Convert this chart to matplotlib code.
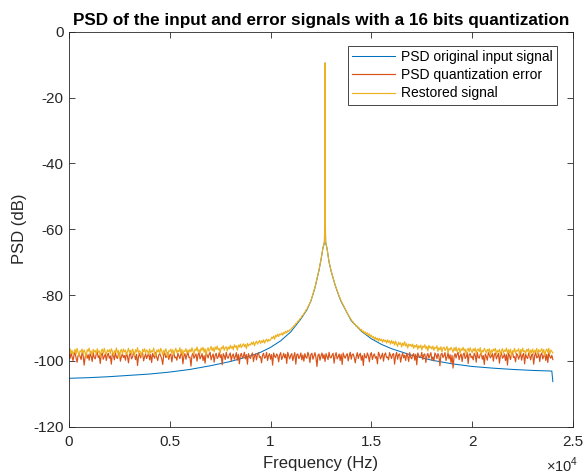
import numpy as np
import matplotlib
matplotlib.use("Agg")
import matplotlib.pyplot as plt
from matplotlib.ticker import FuncFormatter, FixedLocator

plt.rcParams['font.family'] = ['Liberation Sans', 'DejaVu Sans']
plt.rcParams['axes.unicode_minus'] = False
plt.rcParams['mathtext.fontset'] = 'custom'
plt.rcParams['mathtext.rm'] = 'Liberation Sans'

# ---------------- data ----------------
title = "PSD of the input and error signals with a 16 bits quantization"
series_names = ["PSD original input signal", "PSD quantization error", "Restored signal"]
x_ticks = [0, 5000, 10000, 15000, 20000, 25000]
y_ticks = [0, -20, -40, -60, -80, -100, -120]

# PSD of the original input signal (Hz, dB)
blue_freq = [0, 1000, 2000, 3000, 4000, 5000, 6000, 7000, 8000, 9000, 9500, 10000,
             10500, 11000, 11500, 11800, 12000, 12200, 12400, 12500, 12600, 12650,
             12670, 12690, 12700, 12710, 12730, 12750, 12800, 12900, 13000, 13200,
             13400, 13500, 14000, 14500, 15000, 15500, 16000, 17000, 18000, 19000,
             20000, 21000, 22000, 23000, 23950, 24000]
blue_db = [-105.3, -105.1, -104.8, -104.4, -104.0, -103.4, -102.6, -101.5, -100.2, -98.5,
           -97.4, -95.9, -93.9, -91.2, -87.3, -84.5, -81.8, -77.8, -72.5, -69.3, -65.6,
           -64.6, -63.9, -55.0, -9.5, -55.0, -63.9, -64.6, -65.9, -70.0, -72.7, -77.0,
           -80.5, -82.0, -87.8, -91.0, -93.3, -95.0, -96.3, -98.3, -99.8, -100.9,
           -101.7, -102.2, -102.6, -102.9, -103.1, -106.3]

# frequency grid of the noisy estimates (Hz), 50 Hz apart
noise_freq = np.arange(0, 24001, 50)

# PSD of the quantization error (dB), one value per 50 Hz
red_db = [
    -98.0, -99.3, -97.6, -98.8, -99.9, -98.2, -97.4, -99.1, -100.4, -98.5,
    -97.9, -98.7, -99.6, -97.5, -98.3, -101.3, -98.9, -97.7, -99.2, -98.1,
    -99.8, -97.8, -98.6, -100.2, -97.5, -98.9, -99.4, -98.0, -97.3, -99.0,
    -98.4, -100.8, -98.1, -97.6, -99.5, -98.7, -97.9, -99.9, -98.3, -97.7,
    -99.2, -98.5, -101.0, -97.8, -98.2, -99.7, -97.4, -98.8, -99.3, -98.0,
    -97.6, -100.1, -98.6, -97.9, -99.0, -98.4, -99.8, -97.5, -98.7, -100.6,
    -98.1, -97.7, -99.4, -98.9, -97.4, -98.3, -99.6, -98.0, -101.4, -98.6,
    -97.8, -99.1, -98.2, -97.5, -100.0, -98.8, -97.9, -99.3, -98.4, -97.6,
    -99.7, -98.1, -100.5, -97.7, -98.6, -99.2, -97.4, -98.9, -99.9, -98.3,
    -97.8, -98.5, -99.4, -101.1, -98.0, -97.6, -99.0, -98.7, -97.5, -99.6,
    -98.2, -97.9, -100.3, -98.4, -97.3, -99.1, -98.8, -99.8, -97.7, -98.5,
    -99.3, -98.0, -97.6, -100.9, -98.6, -97.8, -99.5, -98.2, -97.4, -99.0,
    -98.9, -101.6, -98.3, -97.7, -99.2, -98.5, -97.9, -100.1, -98.1, -97.5,
    -99.4, -98.7, -97.8, -99.9, -98.4, -100.7, -97.6, -98.2, -99.1, -98.0,
    -97.4, -99.7, -98.6, -97.9, -100.4, -98.3, -97.7, -99.3, -98.8, -97.5,
    -99.0, -98.1, -101.2, -97.8, -98.5, -99.6, -97.4, -98.9, -99.2, -98.2,
    -97.6, -100.0, -98.4, -97.9, -99.5, -98.7, -97.5, -99.8, -98.0, -100.9,
    -98.3, -97.7, -99.1, -98.6, -97.4, -99.4, -98.1, -101.0, -97.8, -98.8,
    -99.3, -98.2, -97.6, -100.2, -98.5, -97.9, -99.7, -98.0, -97.5, -99.0,
    -98.7, -100.6, -98.3, -97.7, -99.2, -98.9, -97.4, -99.9, -98.4, -97.8,
    -99.5, -98.1, -101.3, -97.6, -98.6, -99.0, -97.9, -98.4, -100.3, -98.2,
    -97.5, -99.6, -98.8, -97.7, -99.1, -98.0, -100.8, -97.4, -98.5, -99.4,
    -98.3, -97.8, -99.9, -98.6, -97.5, -101.0, -98.1, -97.9, -99.3, -98.7,
    -97.6, -99.7, -98.2, -100.1, -97.8, -98.9, -99.2, -97.4, -98.4, -100.5,
    -98.0, -97.7, -99.5, -98.6, -97.5, -99.0, -101.7, -98.3, -97.9, -99.8,
    -98.5, -97.6, -99.3, -98.1, -100.2, -97.8, -98.7, -99.6, -97.4, -98.9,
    -99.1, -98.2, -97.7, -100.7, -98.4, -97.5, -99.4, -98.8, -97.9, -99.9,
    -98.0, -101.1, -97.6, -98.6, -99.2, -98.3, -97.8, -100.0, -98.5, -97.4,
    -99.5, -98.1, -97.9, -99.0, -100.6, -98.7, -97.5, -99.3, -98.2, -97.7,
    -99.8, -98.4, -101.4, -97.8, -98.9, -99.1, -97.6, -98.5, -100.3, -98.0,
    -97.5, -99.6, -98.3, -97.9, -99.2, -98.7, -100.9, -97.4, -98.1, -99.4,
    -98.6, -97.7, -100.1, -98.2, -97.6, -99.0, -98.8, -99.7, -97.5, -98.4,
    -99.3, -98.0, -97.8, -101.0, -98.5, -97.4, -99.5, -98.1, -97.9, -100.4,
    -98.7, -97.6, -99.1, -98.3, -99.9, -97.7, -98.6, -100.2, -97.5, -98.9,
    -99.4, -98.2, -97.8, -99.8, -98.0, -101.2, -97.6, -98.4, -99.0, -98.7,
    -97.4, -99.6, -98.1, -97.9, -100.5, -98.5, -97.7, -99.2, -98.3, -97.5,
    -99.7, -98.8, -100.0, -97.6, -98.2, -99.3, -97.8, -98.6, -101.5, -98.0,
    -97.7, -99.0, -98.4, -97.5, -99.9, -98.9, -97.6, -99.4, -98.1, -100.6,
    -98.3, -102.2, -98.7, -97.8, -99.1, -98.0, -97.4, -99.6, -98.5, -97.9,
    -100.2, -98.2, -97.6, -99.3, -98.8, -97.5, -100.8, -98.1, -97.8, -99.0,
    -98.6, -99.7, -97.7, -98.3, -100.4, -97.4, -98.9, -99.2, -98.0, -97.6,
    -99.5, -98.4, -101.1, -97.9, -98.7, -99.8, -97.5, -98.2, -99.1, -98.6,
    -97.8, -100.1, -98.0, -97.6, -99.4, -98.5, -97.7, -100.7, -98.3, -97.5,
    -99.2, -98.8, -97.9, -99.9, -98.1, -101.3, -97.6, -98.4, -99.6, -98.0,
    -97.4, -99.0, -98.7, -100.3, -97.8, -98.2, -99.5, -98.6, -97.5, -99.8,
    -98.3, -97.7, -100.9, -98.0, -98.9, -99.3, -97.6, -98.5, -99.7, -98.1,
    -97.9, -101.0, -98.4, -97.5, -99.1, -98.8, -97.8, -100.2, -98.2, -97.6,
    -99.4, -98.6, -97.7, -99.9, -98.0, -100.5, -97.5, -98.7, -99.2, -98.3,
    -99.6,
]

# PSD of the restored signal (dB), one value per 50 Hz
yellow_db = [
    # 0 - 5950 Hz
    -97.0, -96.3, -97.7, -96.8, -98.1, -97.3, -96.5, -97.9, -96.2, -97.4,
    -98.5, -96.9, -97.2, -96.4, -97.8, -96.7, -97.5, -99.1, -96.6, -97.1,
    -96.1, -97.6, -97.0, -98.2, -96.5, -97.3, -96.8, -97.9, -96.3, -97.4,
    -96.9, -98.6, -97.1, -96.4, -97.7, -96.2, -97.5, -98.0, -96.7, -97.2,
    -96.6, -97.8, -96.3, -97.1, -98.3, -96.9, -97.4, -96.1, -97.6, -96.8,
    -99.2, -97.0, -96.5, -97.9, -96.4, -97.3, -96.7, -98.1, -97.2, -96.2,
    -97.5, -96.8, -97.9, -96.4, -97.1, -98.4, -96.6, -97.3, -96.0, -97.7,
    -96.9, -97.4, -98.7, -96.5, -97.2, -96.3, -97.8, -96.7, -97.0, -98.0,
    -96.4, -97.6, -96.9, -97.2, -96.1, -97.9, -98.5, -96.7, -97.3, -96.5,
    -97.8, -96.2, -97.0, -98.2, -96.8, -97.5, -96.3, -97.4, -99.0, -96.9,
    -97.1, -96.4, -97.7, -96.6, -98.1, -97.0, -96.2, -97.5, -96.8, -97.3,
    -96.0, -97.8, -96.5, -98.3, -96.9, -97.2, -96.3, -97.6, -96.7, -97.4,
    # 6000 - 9950 Hz
    -96.5, -97.3, -96.0, -97.0, -98.0, -96.4, -96.9, -95.8, -97.2, -96.6,
    -97.7, -96.1, -96.8, -95.9, -97.4, -96.3, -98.2, -96.7, -96.0, -97.1,
    -96.4, -95.6, -96.9, -96.0, -97.3, -95.8, -96.5, -95.5, -96.7, -96.2,
    -97.6, -95.9, -96.3, -95.4, -96.8, -96.0, -95.7, -97.0, -95.8, -96.4,
    -95.3, -96.2, -95.6, -96.6, -95.1, -95.9, -95.4, -96.8, -95.2, -95.8,
    -94.9, -96.0, -95.3, -94.8, -95.7, -95.0, -96.3, -94.7, -95.5, -94.9,
    -95.2, -94.4, -95.0, -94.2, -95.4, -94.5, -94.0, -94.9, -94.3, -93.8,
    -94.7, -93.9, -94.4, -93.6, -94.6, -93.8, -93.4, -94.2, -93.5, -93.9,
    # 10000 - 10950 Hz
    -93.6, -92.8, -93.2, -92.5, -93.4, -92.2, -92.7, -91.9, -92.6, -91.8,
    -92.1, -91.5, -92.2, -91.3, -91.7, -91.0, -91.5, -90.8, -91.1, -90.6,
    # 11000 - 11950 Hz
    -90.5, -90.0, -89.9, -89.3, -89.3, -88.6, -88.6, -87.9, -87.9, -87.2,
    -87.1, -86.4, -86.2, -85.6, -85.3, -84.6, -84.3, -83.6, -83.1, -82.4,
    # 12000 - 12650 Hz
    -81.7, -80.7, -79.7, -78.7, -77.7, -76.4, -75.1, -73.7, -72.4, -70.8,
    -69.2, -67.4, -65.5, -64.5,
    # 12700 Hz (tone)
    -9.5,
    # 12750 - 13950 Hz
    -64.5, -65.8, -68.0, -69.9, -71.3, -72.6, -73.7, -74.8, -75.9, -76.9,
    -77.8, -78.6, -79.5, -80.3, -81.0, -81.8, -82.4, -83.0, -83.6, -84.2,
    -84.8, -85.4, -86.0, -86.5, -87.0,
    # 14000 - 23950 Hz
    -87.5, -88.0, -88.2, -88.8, -88.9, -89.5, -89.4, -90.1, -90.0, -90.7,
    -90.4, -91.2, -90.9, -91.6, -91.2, -92.0, -91.5, -92.3, -91.8, -92.6,
    -92.2, -93.0, -92.6, -93.5, -92.8, -93.6, -93.1, -94.0, -93.2, -93.8,
    -93.4, -94.3, -93.5, -94.1, -93.7, -94.6, -93.6, -94.4, -93.9, -94.9,
    -93.8, -94.7, -94.1, -95.2, -94.0, -94.9, -95.6, -94.3, -95.0, -94.5,
    -95.8, -94.6, -95.3, -94.2, -95.5, -94.8, -96.1, -94.9, -95.4, -95.0,
    -95.7, -94.9, -96.2, -95.3, -95.8, -95.0, -96.5, -95.4, -96.0, -95.2,
    -96.7, -95.5, -95.9, -95.1, -96.3, -95.6, -97.0, -95.3, -96.1, -95.7,
    -96.4, -95.5, -96.8, -95.9, -96.2, -95.4, -97.1, -96.0, -96.6, -95.7,
    -97.3, -96.1, -95.8, -96.9, -96.3, -95.6, -97.5, -96.2, -96.7, -95.9,
    -96.6, -97.4, -96.0, -96.9, -95.8, -97.2, -96.5, -96.1, -97.7, -96.3,
    -96.8, -95.9, -97.0, -96.4, -98.0, -96.6, -96.2, -97.3, -96.0, -96.9,
    -97.5, -96.3, -97.0, -96.1, -97.8, -96.6, -96.4, -97.2, -96.0, -98.1,
    -96.8, -97.3, -96.2, -96.9, -97.6, -96.5, -97.1, -96.3, -98.4, -96.7,
    -97.4, -96.4, -97.0, -96.2, -97.9, -96.8, -97.3, -96.5, -98.2, -96.9,
    -96.3, -97.6, -96.7, -97.1, -96.1, -97.8, -96.6, -97.5, -96.4, -98.6,
    -96.9, -97.3, -96.2, -97.7, -96.8, -97.0, -96.3, -98.1, -96.6, -97.4,
    -96.1, -97.2, -96.9, -97.9, -96.5, -97.1, -96.3, -98.3, -96.7, -97.5,
    -96.4, -97.8, -96.8, -97.2, -96.2, -98.0, -96.6, -97.3, -96.9, -96.3,
    -97.6, -96.5, -98.4, -97.0, -96.4, -97.4, -96.2, -97.9, -96.7, -97.1,
    # 24000 Hz
    -97.6,
]
# extra detail around the tone
yellow_peak_freq = [12670, 12690, 12710, 12730]
yellow_peak_db = [-63.8, -55.0, -55.0, -63.8]

# ---------------- plot ----------------
c_blue = '#0072BD'
c_red = '#D95319'
c_yellow = '#EDB120'
axis_col = '#262626'

yf = np.concatenate([noise_freq, yellow_peak_freq])
yv = np.concatenate([yellow_db, yellow_peak_db])
order = np.argsort(yf, kind='stable')
yf, yv = yf[order], yv[order]

fig = plt.figure(figsize=(5.84, 4.76), dpi=100)
ax = fig.add_axes([69/584, 1-426.7/476, 504/584, (426.7-31.7)/476])

ax.plot(blue_freq, blue_db, color=c_blue, lw=0.75, label=series_names[0])
ax.plot(noise_freq, red_db, color=c_red, lw=0.85, label=series_names[1])
ax.plot(yf, yv, color=c_yellow, lw=0.85, label=series_names[2])

ax.set_xlim(0, 25000)
ax.set_ylim(-120, 0)
ax.xaxis.set_major_locator(FixedLocator(x_ticks))
ax.yaxis.set_major_locator(FixedLocator(y_ticks))
ax.xaxis.set_major_formatter(FuncFormatter(lambda v, p: '%g' % (v / 1e4)))
ax.yaxis.set_major_formatter(FuncFormatter(lambda v, p: '%g' % v))

for s in ax.spines.values():
    s.set_color(axis_col)
    s.set_linewidth(0.6)
ax.tick_params(direction='in', length=4.5, width=0.6, colors=axis_col,
               labelsize=11, top=True, right=True)
ax.tick_params(axis='x', pad=6)
ax.tick_params(axis='y', pad=4)

ax.set_xlabel('Frequency (Hz)', fontsize=12, color=axis_col, labelpad=5)
ax.set_ylabel('PSD (dB)', fontsize=12, color=axis_col, labelpad=4)
ax.set_title(title, fontsize=12.3, fontweight='bold', color='black', pad=5)

fig.text(578/584, 1-465/476, r'$\times10^{4}$', ha='right', va='center',
         fontsize=10.5, color=axis_col)

leg = ax.legend(loc='upper right', bbox_to_anchor=((557-69)/504, 1-(46-31.7)/395),
                fontsize=10, frameon=True, fancybox=False, shadow=False,
                handlelength=3.1, handletextpad=0.45, labelspacing=0.3,
                borderpad=0.3, borderaxespad=0.0)
leg.get_frame().set_edgecolor(axis_col)
leg.get_frame().set_linewidth(0.6)
leg.get_frame().set_alpha(1)

fig.savefig('out.png', dpi=100)
